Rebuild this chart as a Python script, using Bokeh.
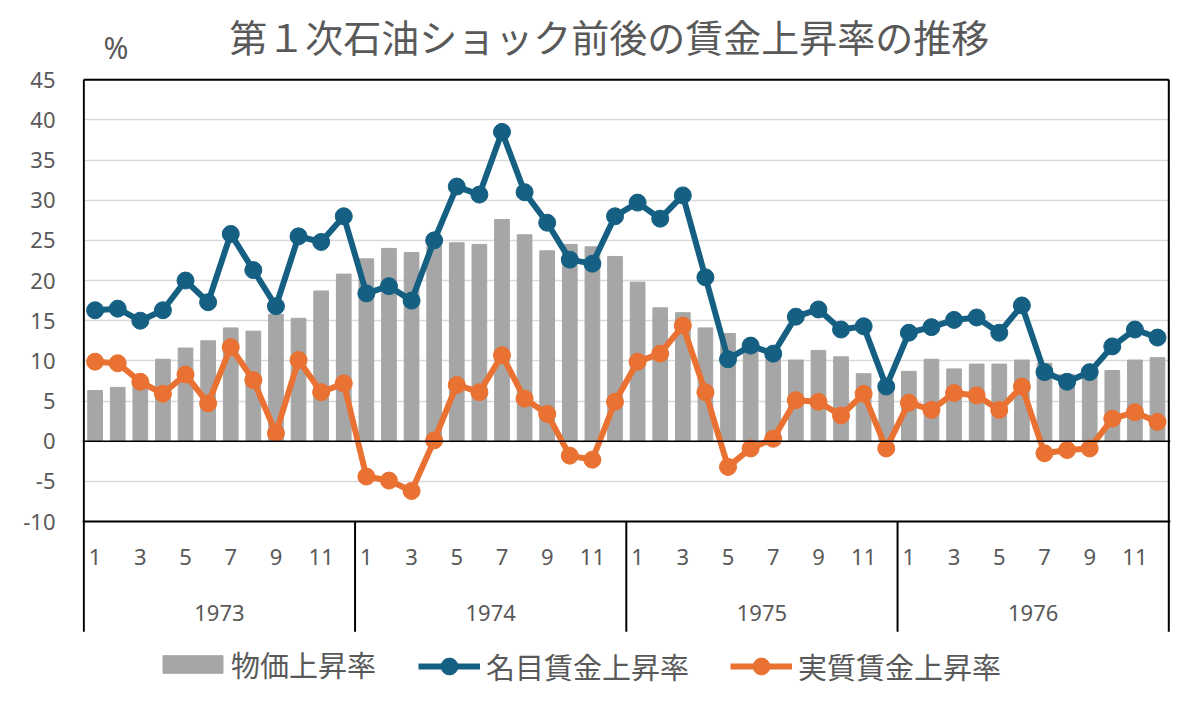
from bokeh.plotting import figure
from bokeh.models import Range1d, FixedTicker, Span, Legend, LegendItem, ColumnDataSource
from bokeh.core.properties import value
from bokeh.embed import file_html
from bokeh.resources import INLINE

# ---------------- data ----------------
years = ["1973", "1974", "1975", "1976"]
month_labels = ["1", "2", "3", "4", "5", "6", "7", "8", "9", "10", "11", "12"]

# 物価上昇率 (bars)
price = [6.3, 6.7, 7.6, 10.2, 11.6, 12.5, 14.1, 13.7, 15.8, 15.3, 18.7, 20.8,
         22.7, 24.0, 23.5, 24.3, 24.7, 24.5, 27.6, 25.7, 23.7, 24.5, 24.2, 23.0,
         19.8, 16.6, 16.0, 14.1, 13.4, 11.8, 10.8, 10.1, 11.3, 10.5, 8.4, 7.2,
         8.7, 10.2, 9.0, 9.6, 9.6, 10.1, 9.7, 8.3, 9.0, 8.8, 10.1, 10.4]
# 名目賃金上昇率
nominal = [16.3, 16.5, 15.0, 16.3, 20.0, 17.3, 25.8, 21.3, 16.8, 25.5, 24.8, 28.0,
           18.4, 19.3, 17.5, 25.0, 31.7, 30.7, 38.5, 31.0, 27.2, 22.6, 22.1, 28.0,
           29.7, 27.7, 30.6, 20.4, 10.2, 11.9, 10.9, 15.5, 16.4, 13.9, 14.3, 6.8,
           13.5, 14.2, 15.1, 15.4, 13.5, 16.9, 8.6, 7.4, 8.6, 11.8, 13.9, 12.9]
# 実質賃金上昇率
real = [9.9, 9.7, 7.4, 5.9, 8.3, 4.7, 11.7, 7.6, 1.0, 10.1, 6.1, 7.2,
        -4.4, -4.9, -6.2, 0.1, 7.0, 6.1, 10.7, 5.3, 3.4, -1.8, -2.3, 4.9,
        9.9, 10.9, 14.4, 6.1, -3.2, -0.9, 0.3, 5.1, 4.9, 3.2, 5.9, -0.9,
        4.8, 3.9, 6.0, 5.7, 3.9, 6.8, -1.5, -1.1, -0.9, 2.8, 3.6, 2.4]

y_ticks = [-10, -5, 0, 5, 10, 15, 20, 25, 30, 35, 40, 45]

series_names = ["物価上昇率", "名目賃金上昇率", "実質賃金上昇率"]
title_text = "第１次石油ショック前後の賃金上昇率の推移"
unit_text = "%"

# ---------------- styles ----------------
GRAY = "#A6A6A6"
BLUE = "#156082"
ORANGE = "#E97132"
TXT = "#595959"
JP = "Noto Sans CJK JP"
NUM = "Noto Sans"

n = len(price)
nm = len(month_labels)
xs = [i + 0.5 for i in range(n)]
src = ColumnDataSource(dict(x=xs, price=price, nominal=nominal, real=real))

Y_MAX = y_ticks[-1]
Y_MIN = y_ticks[0]
# the plot frame covers the whole canvas right of the tick labels;
# the box of the chart sits inside it, with room above and below
X_LO, X_HI = -0.058, n + 0.075
Y_TOP = 54.86
Y_BOT = -32.90
Y_DIV = -23.72     # bottom of the category-axis box
Y_MONTH = -14.39
Y_YEAR = -21.36
TITLE_X, TITLE_Y = 23.25, 50.51
UNIT_X, UNIT_Y = 0.87, 48.96

p = figure(width=1192, height=705, output_backend="svg", toolbar_location=None,
           x_range=Range1d(X_LO, X_HI), y_range=Range1d(Y_BOT, Y_TOP),
           x_axis_location=None,
           min_border_left=82, min_border_right=22, min_border_top=0, min_border_bottom=0,
           outline_line_color=None, background_fill_color="white", border_fill_color="white")

# left axis (labels only)
yax = p.yaxis[0]
yax.ticker = FixedTicker(ticks=y_ticks)
yax.major_label_overrides = {t: str(t) for t in y_ticks}
yax.major_label_text_font = NUM
yax.major_label_text_font_size = "22px"
yax.major_label_text_color = TXT
yax.major_tick_line_color = None
yax.major_tick_out = 0
yax.major_tick_in = 0
yax.minor_tick_line_color = None
yax.minor_tick_out = 0
yax.axis_line_color = None
yax.major_label_standoff = 27

p.ygrid.ticker = FixedTicker(ticks=y_ticks)
p.ygrid.grid_line_color = "#D9D9D9"
p.ygrid.grid_line_width = 1.5
p.xgrid.visible = False

# box lines
p.add_layout(Span(location=Y_MIN, dimension="width", line_color="black", line_width=2))
p.add_layout(Span(location=0, dimension="width", line_color="black", line_width=1.5))
p.segment(x0=[0], y0=[Y_MAX], x1=[n], y1=[Y_MAX], line_color="black", line_width=2)
p.segment(x0=[0, n], y0=[Y_MAX, Y_MAX], x1=[0, n], y1=[Y_DIV, Y_DIV],
          line_color="black", line_width=2)
p.ygrid.bounds = (Y_MIN, Y_MAX)

# bars and lines
bars = p.vbar(x="x", top="price", width=0.65, color=GRAY, source=src)
bl = p.line(x="x", y="nominal", line_color=BLUE, line_width=6, source=src)
bm = p.scatter(x="x", y="nominal", size=17, color=BLUE, source=src)
ol = p.line(x="x", y="real", line_color=ORANGE, line_width=6, source=src)
om = p.scatter(x="x", y="real", size=17, color=ORANGE, source=src)

# category axis (months / years)
mx, mt = [], []
for k in range(len(years)):
    for j, m in enumerate(month_labels):
        if j % 2 == 0:
            mx.append(k * nm + j + 0.5)
            mt.append(m)
p.text(x=mx, y=[Y_MONTH] * len(mx), text=mt, text_align="center", text_baseline="middle",
       text_font=value(NUM), text_font_size="22px", text_color=TXT)
yx = [k * nm + nm / 2 for k in range(len(years))]
p.text(x=yx, y=[Y_YEAR] * len(yx), text=years, text_align="center", text_baseline="middle",
       text_font=value(NUM), text_font_size="22px", text_color=TXT)
bx = [k * nm for k in range(1, len(years))]
p.segment(x0=bx, y0=[Y_MIN] * len(bx), x1=bx, y1=[Y_DIV] * len(bx),
          line_color="black", line_width=2)

# title and unit
p.text(x=[TITLE_X], y=[TITLE_Y], text=[title_text], text_align="center", text_baseline="middle",
       text_font=value(JP), text_font_size="38px", text_color=TXT)
p.text(x=[UNIT_X], y=[UNIT_Y], text=[unit_text], text_align="left", text_baseline="middle",
       text_font=value(NUM), text_font_size="30px", text_color=TXT)

# legends
common = dict(orientation="horizontal", padding=0, margin=0, border_line_color=None,
              background_fill_alpha=0, label_text_font=JP, label_text_font_size="29px",
              label_text_color=TXT)
leg_a = Legend(items=[LegendItem(label=series_names[0], renderers=[bars])],
               location=(73, 20), glyph_width=75, glyph_height=22, label_standoff=1, **common)
leg_b = Legend(items=[LegendItem(label=series_names[1], renderers=[bl, bm]),
                      LegendItem(label=series_names[2], renderers=[ol, om])],
               location=(336, 18), glyph_width=62, glyph_height=42, label_standoff=6,
               spacing=41, **common)
p.add_layout(leg_a)
p.add_layout(leg_b)

open("out.html", "w").write(file_html(p, INLINE))
